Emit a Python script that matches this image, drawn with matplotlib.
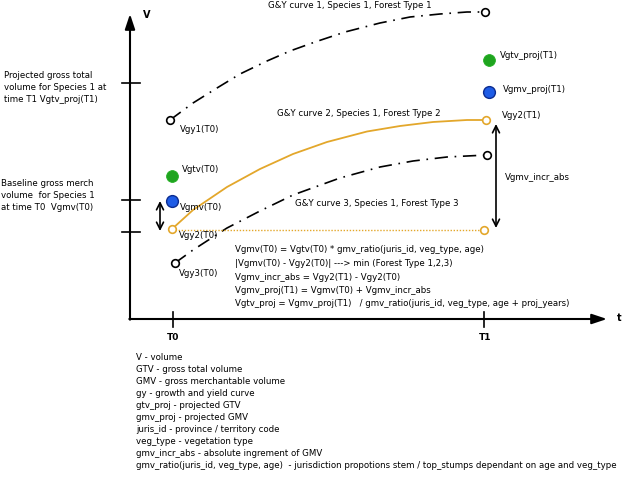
import matplotlib
matplotlib.use("Agg")
import matplotlib.pyplot as plt

# ---- data (pixel-space coordinates) ----
T0_x = 173
T1_x = 484
axis_origin = (130, 319)
y_axis_top = 14
x_axis_right = 607
y_tick_levels = [83, 200, 232]

curve1_x = [170, 193, 217, 240, 267, 290, 315, 345, 380, 410, 440, 467, 485]
curve1_y = [120, 103, 88, 74, 61, 51, 42, 32, 23, 17, 14, 12, 12]
curve2_x = [172, 193, 227, 260, 293, 327, 367, 400, 433, 467, 486]
curve2_y = [229, 210, 187, 169, 154, 142, 131.5, 126, 122, 120, 120]
curve3_x = [175, 193, 227, 260, 293, 340, 380, 413, 447, 487]
curve3_y = [263, 250, 228, 211, 195, 178, 167, 161, 157, 155]

baseline_y = 230  # Vgy2(T0) level (dotted)

green_pts_x = [172, 489]
green_pts_y = [176, 60]
blue_pts_x = [172, 489]
blue_pts_y = [201, 92]

curve_labels = ["G&Y curve 1, Species 1, Forest Type 1",
                "G&Y curve 2, Species 1, Forest Type 2",
                "G&Y curve 3, Species 1, Forest Type 3"]
curve_label_pos = [(268, 6), (277, 114), (295, 203)]

point_labels = ["Vgy1(T0)", "Vgtv(T0)", "Vgmv(T0)", "Vgy2(T0)", "Vgy3(T0)",
                "Vgtv_proj(T1)", "Vgmv_proj(T1)", "Vgy2(T1)", "Vgmv_incr_abs"]
point_label_pos = [(180, 129), (182, 170), (180, 207), (179, 236), (179, 274),
                   (500, 55), (503, 90), (502, 115), (505, 177)]

left_text1 = ["Projected gross total", "volume for Species 1 at", "time T1 Vgtv_proj(T1)"]
left_text2 = ["Baseline gross merch", "volume  for Species 1", "at time T0  Vgmv(T0)"]

formulas = ["Vgmv(T0) = Vgtv(T0) * gmv_ratio(juris_id, veg_type, age)",
            "|Vgmv(T0) - Vgy2(T0)| ---> min (Forest Type 1,2,3)",
            "Vgmv_incr_abs = Vgy2(T1) - Vgy2(T0)",
            "Vgmv_proj(T1) = Vgmv(T0) + Vgmv_incr_abs",
            "Vgtv_proj = Vgmv_proj(T1)   / gmv_ratio(juris_id, veg_type, age + proj_years)"]

definitions = ["V - volume",
               "GTV - gross total volume",
               "GMV - gross merchantable volume",
               "gy - growth and yield curve",
               "gtv_proj - projected GTV",
               "gmv_proj - projected GMV",
               "juris_id - province / territory code",
               "veg_type - vegetation type",
               "gmv_incr_abs - absolute ingrement of GMV",
               "gmv_ratio(juris_id, veg_type, age)  - jurisdiction propotions stem / top_stumps dependant on age and veg_type"]

# ---- drawing ----
plt.rcParams['font.family'] = ['DejaVu Sans']
FS = 6.2
fig = plt.figure(figsize=(6.24, 4.84), dpi=100)
ax = fig.add_axes([0, 0, 1, 1])
ax.set_xlim(0, 624)
ax.set_ylim(484, 0)
ax.axis('off')

ox, oy = axis_origin
# axes with filled arrowheads
ax.annotate("", xy=(ox, y_axis_top), xytext=(ox, oy + 0.7),
            arrowprops=dict(arrowstyle="-|>,head_length=0.9,head_width=0.3", color="black", lw=1.5,
                            shrinkA=0, shrinkB=0))
ax.annotate("", xy=(x_axis_right, oy), xytext=(ox - 0.7, oy),
            arrowprops=dict(arrowstyle="-|>,head_length=0.9,head_width=0.3", color="black", lw=1.5,
                            shrinkA=0, shrinkB=0))
for yl in y_tick_levels:
    ax.plot([122, 140], [yl, yl], color="black", lw=1.2)
for xt in [T0_x, T1_x]:
    ax.plot([xt, xt], [312, 327], color="black", lw=1.2)

ax.text(143, 15, "V", fontsize=7, fontweight="bold", va="center", ha="left")
ax.text(617, 318, "t", fontsize=7, fontweight="bold", va="center", ha="left")
ax.text(T0_x, 338, "T0", fontsize=6.5, fontweight="bold", va="center", ha="center")
ax.text(T1_x + 1, 338, "T1", fontsize=6.5, fontweight="bold", va="center", ha="center")

dashdot = (0, (8, 4, 1, 4))
orange = "#E3A72B"
ax.plot(curve1_x, curve1_y, color="black", lw=1.2, linestyle=dashdot, zorder=2)
ax.plot(curve2_x, curve2_y, color=orange, lw=1.3, zorder=2)
ax.plot(curve3_x, curve3_y, color="black", lw=1.2, linestyle=dashdot, zorder=2)
ax.plot([curve2_x[0], T1_x], [baseline_y, baseline_y], color=orange, lw=1.0,
        linestyle=(0, (1, 1.2)), zorder=2)

# open circles
ax.plot([curve1_x[0], curve1_x[-1], curve3_x[0], curve3_x[-1]],
        [curve1_y[0], curve1_y[-1], curve3_y[0], curve3_y[-1]],
        linestyle="none", marker="o", ms=5.5, mfc="white", mec="black", mew=1.2, zorder=3)
ax.plot([curve2_x[0], curve2_x[-1], T1_x],
        [curve2_y[0], curve2_y[-1], baseline_y],
        linestyle="none", marker="o", ms=5.5, mfc="white", mec=orange, mew=1.2, zorder=3)

# filled points
ax.plot(green_pts_x, green_pts_y, linestyle="none", marker="o", ms=8.5,
        mfc="#1FA41F", mec="#23B023", mew=0.6, zorder=3)
ax.plot(blue_pts_x, blue_pts_y, linestyle="none", marker="o", ms=8.5,
        mfc="#1E5CE6", mec="#0C2C90", mew=1.0, zorder=3)

# double arrows
arrow_kw = dict(arrowstyle="<->,head_length=0.5,head_width=0.25", color="black", lw=1.2,
                shrinkA=0, shrinkB=0)
ax.annotate("", xy=(160, 201), xytext=(160, 231), arrowprops=arrow_kw)
ax.annotate("", xy=(496, 124), xytext=(496, 228), arrowprops=arrow_kw)

# texts
for s, (x, y) in zip(curve_labels, curve_label_pos):
    ax.text(x, y, s, fontsize=FS, va="center", ha="left")
for s, (x, y) in zip(point_labels, point_label_pos):
    ax.text(x, y, s, fontsize=FS, va="center", ha="left")
for i, s in enumerate(left_text1):
    ax.text(4, 75 + i * 12, s, fontsize=FS, va="center", ha="left")
for i, s in enumerate(left_text2):
    ax.text(1, 184 + i * 12, s, fontsize=FS, va="center", ha="left")
for i, s in enumerate(formulas):
    ax.text(235, 250 + i * 13.5, s, fontsize=FS, va="center", ha="left")
for i, s in enumerate(definitions):
    ax.text(136, 358 + i * 11.9, s, fontsize=FS, va="center", ha="left")

fig.savefig("out.png", dpi=100, facecolor="white")
